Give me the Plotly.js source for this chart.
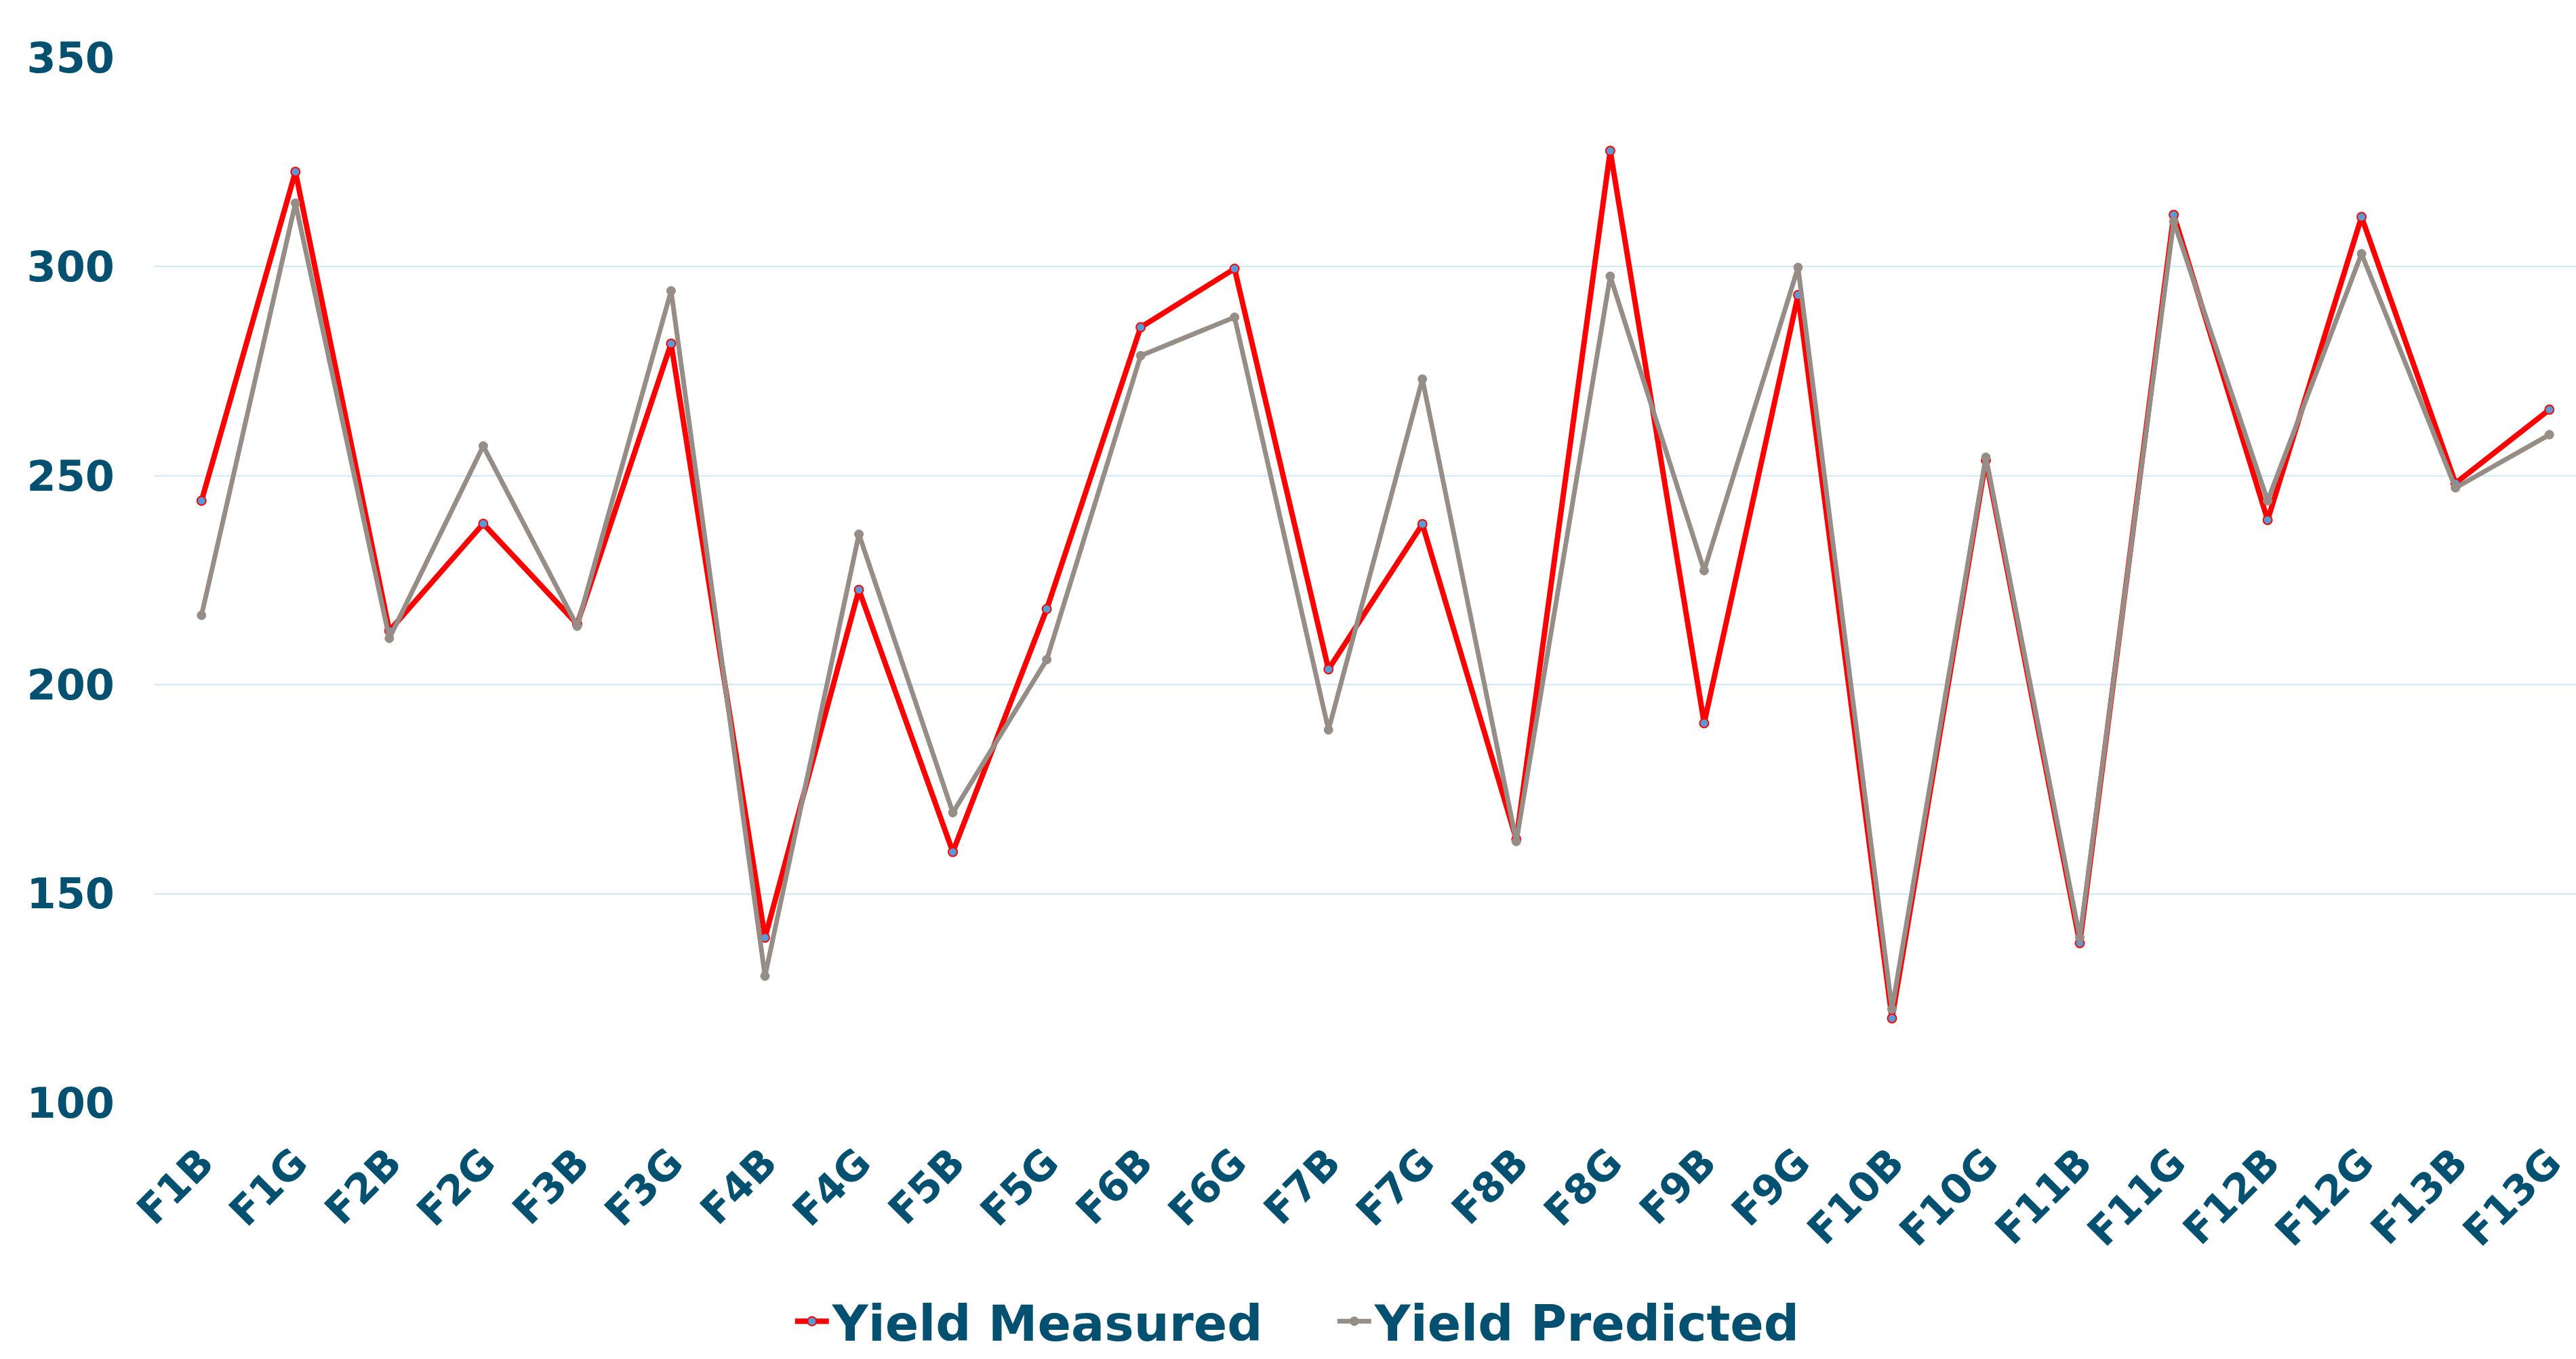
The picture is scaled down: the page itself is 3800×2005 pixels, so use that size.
<!DOCTYPE html>
<html>
<head>
<meta charset="utf-8">
<script src="https://cdn.plot.ly/plotly-3.0.1.min.js"></script>
<style>
html, body { margin: 0; padding: 0; overflow: hidden; background: #ffffff; }
#chart { width: 3840px; height: 2005px; }
</style>
</head>
<body>
<div id="chart"></div>
<script>
const categories = ["F1B","F1G","F2B","F2G","F3B","F3G","F4B","F4G","F5B","F5G","F6B","F6G","F7B","F7G","F8B","F8G","F9B","F9G","F10B","F10G","F11B","F11G","F12B","F12G","F13B","F13G"];
const yieldMeasured = [244.0,322.7,212.9,238.5,214.5,281.6,139.5,222.7,160.0,218.1,285.5,299.5,203.7,238.4,163.0,327.7,190.8,293.2,120.2,253.7,138.2,312.4,239.4,311.9,248.2,265.8];
const yieldPredicted = [216.6,315.2,211.1,257.1,214.0,294.2,130.3,236.0,169.4,206.0,278.7,287.9,189.2,273.1,162.5,297.7,227.3,299.8,122.4,254.4,139.5,310.8,244.0,303.1,247.1,259.8];
const yTicks = [100,150,200,250,300,350];

const textColor = "#045070";
const fontFam = "DejaVu Sans, Verdana, sans-serif";

const traces = [
  {
    x: categories, y: yieldMeasured, name: "Yield Measured", type: "scatter", mode: "lines+markers",
    line: {color: "#ff0000", width: 8},
    marker: {size: 13, color: "#5b9bd5", line: {color: "#ff0000", width: 2}}
  },
  {
    x: categories, y: yieldPredicted, name: "Yield Predicted", type: "scatter", mode: "lines+markers",
    line: {color: "#978d87", width: 7},
    marker: {size: 13, color: "#978d87", line: {color: "#978d87", width: 1}}
  }
];

const layout = {
  width: 3840, height: 2005,
  margin: {l: 228, r: 10, t: 85, b: 378, autoexpand: false},
  paper_bgcolor: "#ffffff", plot_bgcolor: "#ffffff",
  showlegend: true,
  legend: {
    orientation: "h", x: 0.483, xanchor: "center", y: -0.174, yanchor: "top",
    font: {family: fontFam, size: 73, color: textColor, weight: "bold"},
    itemwidth: 50, entrywidth: 735, entrywidthmode: "pixels"
  },
  xaxis: {
    type: "category", categoryorder: "array", categoryarray: categories,
    range: [-0.5, 25.5], automargin: false,
    showgrid: false, zeroline: false, showline: false, ticks: "",
    tickangle: -45,
    tickfont: {family: fontFam, size: 60, color: textColor, weight: "bold"},
    ticklabelstandoff: 40
  },
  yaxis: {
    range: [100, 350], automargin: false,
    tickmode: "array", tickvals: yTicks, ticktext: yTicks.map(String),
    showgrid: true, gridcolor: "#cdebf7", gridwidth: 2,
    zeroline: false, showline: false, ticks: "",
    tickfont: {family: fontFam, size: 62, color: textColor, weight: "bold"},
    ticklabelstandoff: 58
  }
};

Plotly.newPlot("chart", traces, layout, {displayModeBar: false, staticPlot: true});
</script>
</body>
</html>
